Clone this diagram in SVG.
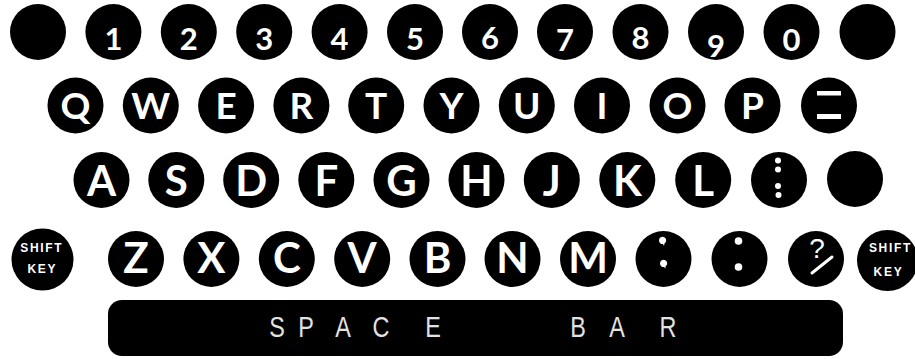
<svg xmlns="http://www.w3.org/2000/svg" width="915" height="359" viewBox="0 0 915 359">
<style>
.k{fill:#000}
.t{font-family:Lato,"Open Sans","Liberation Sans",sans-serif;font-weight:700;fill:#fff;text-anchor:middle}
.d{font-size:31px}
.l2{font-size:37px}
.l3{font-size:42px}
.s{font-family:"Liberation Sans",Arial,sans-serif;font-weight:700;font-size:12px;fill:#fff;text-anchor:middle;letter-spacing:1.7px}
.w{fill:#fff}
.sb{font-family:"Liberation Sans",Arial,sans-serif;font-size:30px;fill:#e2e2e2;text-anchor:middle}
</style>
<rect width="915" height="359" fill="#fff"/>
<g id="row1">
<g id="key-blank-left"><circle class="k" cx="38" cy="32" r="28"/></g>
<g id="key-1"><circle class="k" cx="113.4" cy="32" r="28"/><text class="t d" x="113.4" y="50">1</text></g>
<g id="key-2"><circle class="k" cx="188.8" cy="32" r="28"/><text class="t d" x="188.8" y="50">2</text></g>
<g id="key-3"><circle class="k" cx="264.2" cy="32" r="28"/><text class="t d" x="264.2" y="50">3</text></g>
<g id="key-4"><circle class="k" cx="339.6" cy="32" r="28"/><text class="t d" x="339.6" y="50">4</text></g>
<g id="key-5"><circle class="k" cx="415" cy="32" r="28"/><text class="t d" x="415" y="50">5</text></g>
<g id="key-6"><circle class="k" cx="490" cy="32" r="28"/><text class="t d" x="490" y="49">6</text></g>
<g id="key-7"><circle class="k" cx="565" cy="32" r="28"/><text class="t d" x="565" y="51" font-size="26">7</text></g>
<g id="key-8"><circle class="k" cx="640.5" cy="32" r="28"/><text class="t d" x="640.5" y="49">8</text></g>
<g id="key-9"><circle class="k" cx="716" cy="32" r="28"/><text class="t d" x="716" y="56.5" font-size="32">9</text></g>
<g id="key-0"><circle class="k" cx="791.5" cy="32" r="28"/><text class="t d" x="791.5" y="50.5" font-size="28">0</text></g>
<g id="key-blank-right"><circle class="k" cx="867.5" cy="32" r="28"/></g>
</g>
<g id="row2">
<g id="key-Q"><circle class="k" cx="75.5" cy="105.5" r="28"/><text class="t l2" x="75.5" y="119">Q</text></g>
<g id="key-W"><circle class="k" cx="150.8" cy="105.5" r="28"/><text class="t l2" x="150.8" y="119">W</text></g>
<g id="key-E"><circle class="k" cx="226.1" cy="105.5" r="28"/><text class="t l2" x="226.1" y="119">E</text></g>
<g id="key-R"><circle class="k" cx="301.4" cy="105.5" r="28"/><text class="t l2" x="301.4" y="119">R</text></g>
<g id="key-T"><circle class="k" cx="376.2" cy="105.5" r="28"/><text class="t l2" x="376.2" y="119">T</text></g>
<g id="key-Y"><circle class="k" cx="451.5" cy="105.5" r="28"/><text class="t l2" x="451.5" y="119">Y</text></g>
<g id="key-U"><circle class="k" cx="526.8" cy="105.5" r="28"/><text class="t l2" x="526.8" y="119">U</text></g>
<g id="key-I"><circle class="k" cx="602" cy="105.5" r="28"/><text class="t l2" x="602" y="119">I</text></g>
<g id="key-O"><circle class="k" cx="677.5" cy="105.5" r="28"/><text class="t l2" x="677.5" y="119">O</text></g>
<g id="key-P"><circle class="k" cx="752.5" cy="105.5" r="28"/><text class="t l2" x="752.5" y="119">P</text></g>
<g id="key-equals"><circle class="k" cx="829" cy="105.5" r="28"/><rect class="w" x="817" y="91" width="24" height="4.5"/><rect class="w" x="817" y="114" width="24" height="5"/></g>
</g>
<g id="row3">
<g id="key-A"><circle class="k" cx="101.5" cy="180" r="28"/><text class="t l3" x="101.5" y="195.5">A</text></g>
<g id="key-S"><circle class="k" cx="176.3" cy="180" r="28"/><text class="t l3" x="176.3" y="195.5">S</text></g>
<g id="key-D"><circle class="k" cx="251.2" cy="180" r="28"/><text class="t l3" x="251.2" y="195.5">D</text></g>
<g id="key-F"><circle class="k" cx="326.3" cy="180" r="28"/><text class="t l3" x="326.3" y="195.5">F</text></g>
<g id="key-G"><circle class="k" cx="401.5" cy="180" r="28"/><text class="t l3" x="401.5" y="195.5">G</text></g>
<g id="key-H"><circle class="k" cx="476.5" cy="180" r="28"/><text class="t l3" x="476.5" y="195.5">H</text></g>
<g id="key-J"><circle class="k" cx="551.8" cy="180" r="28"/><text class="t l3" x="551.8" y="195.5">J</text></g>
<g id="key-K"><circle class="k" cx="627.3" cy="180" r="28"/><text class="t l3" x="627.3" y="195.5">K</text></g>
<g id="key-L"><circle class="k" cx="703.2" cy="180" r="28"/><text class="t l3" x="703.2" y="195.5">L</text></g>
<g id="key-colons"><circle class="k" cx="779" cy="180" r="28"/><circle class="w" cx="778" cy="160.5" r="3"/><circle class="w" cx="778" cy="169.5" r="3"/><circle class="w" cx="778" cy="186" r="3"/><circle class="w" cx="778.5" cy="195" r="3"/></g>
<g id="key-blank-row3"><circle class="k" cx="855" cy="179" r="28"/></g>
</g>
<g id="row4">
<g id="key-shift-left"><circle class="k" cx="42.5" cy="259.5" r="31"/><text class="s" x="41.8" y="252">SHIFT</text><text class="s" x="42.3" y="273">KEY</text></g>
<g id="key-Z"><circle class="k" cx="136" cy="259" r="28"/><text class="t l3" x="136" y="273">Z</text></g>
<g id="key-X"><circle class="k" cx="211.4" cy="259" r="28"/><text class="t l3" x="211.4" y="273">X</text></g>
<g id="key-C"><circle class="k" cx="286.8" cy="259" r="28"/><text class="t l3" x="286.8" y="273">C</text></g>
<g id="key-V"><circle class="k" cx="362.2" cy="259" r="28"/><text class="t l3" x="362.2" y="273">V</text></g>
<g id="key-B"><circle class="k" cx="437.5" cy="259" r="28"/><text class="t l3" x="437.5" y="273">B</text></g>
<g id="key-N"><circle class="k" cx="512.5" cy="259" r="28"/><text class="t l3" x="512.5" y="273">N</text></g>
<g id="key-M"><circle class="k" cx="588" cy="259" r="28"/><text class="t l3" x="588" y="273">M</text></g>
<g id="key-semicolon"><circle class="k" cx="663.5" cy="259" r="28"/><path class="w" d="M659 240.5 a3.6 3.6 0 1 1 5.5 3 l-0.5 2.5 -1 -2 a3.6 3.6 0 0 1 -4 -3.5z"/><path class="w" d="M660 263.5 a3.6 3.6 0 1 1 5.5 3 l0 2 -1.5 -1.5 a3.6 3.6 0 0 1 -4 -3.5z"/></g>
<g id="key-colon"><circle class="k" cx="739.5" cy="259" r="28"/><circle class="w" cx="738.5" cy="241" r="3.8"/><circle class="w" cx="738.5" cy="267" r="3.8"/></g>
<g id="key-question"><circle class="k" cx="816" cy="259" r="28"/><text x="817" y="258" style="font-family:'Liberation Sans',Arial,sans-serif;font-size:28px;fill:#fff;text-anchor:middle">?</text><line x1="812" y1="273" x2="832" y2="257" stroke="#fff" stroke-width="3" stroke-linecap="round"/></g>
<g id="key-shift-right"><circle class="k" cx="887.5" cy="260.5" r="30.5"/><text class="s" x="890.5" y="252">SHIFT</text><text class="s" x="888.5" y="275.5">KEY</text></g>
</g>
<g id="space-bar">
<rect class="k" x="108" y="300" width="735" height="56" rx="14"/>
<g transform="translate(0,337) scale(0.78,1)">
<text class="sb" x="355.1 392.3 439.7 488.5 555.1" y="0">SPACE</text>
<text class="sb" x="741 791 856.4" y="0">BAR</text>
</g>
</g>
</svg>
